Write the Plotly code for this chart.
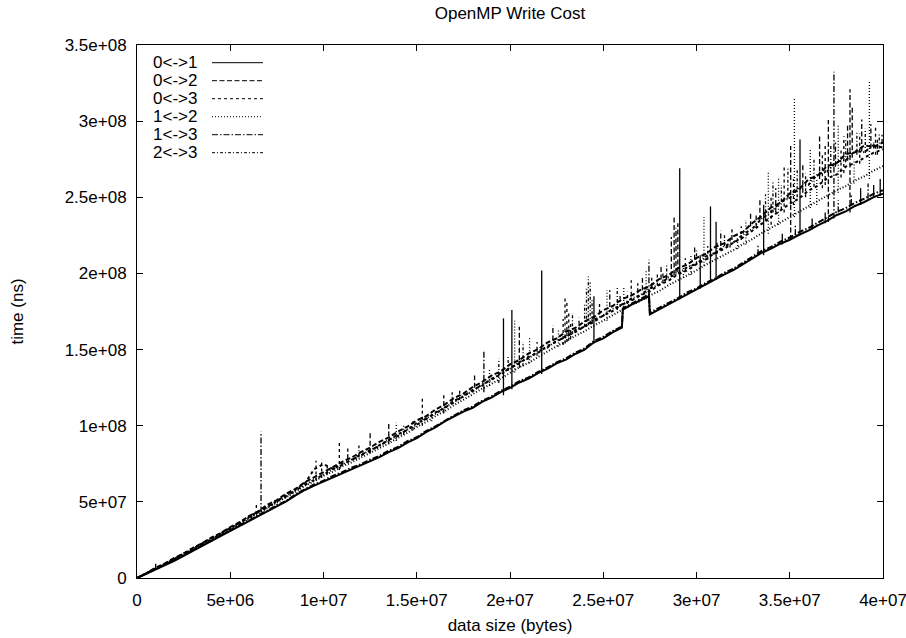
import plotly.graph_objects as go

# ---------------- data (sizes in 1e6 bytes, times in 1e6 ns) ----------------
series_keys = ["01", "02", "03", "12", "13", "23"]
series_names = ["0<->1", "0<->2", "0<->3", "1<->2", "1<->3", "2<->3"]

sizes_mb = [0, 0.5, 1, 1.5, 2, 2.5, 3, 3.5, 4, 4.5,
            5, 5.5, 6, 6.5, 7, 7.5, 8, 8.5, 9, 9.5,
            10, 10.5, 11, 11.5, 12, 12.5, 13, 13.5, 14, 14.5,
            15, 15.5, 16, 16.5, 17, 17.5, 18, 18.5, 19, 19.5,
            20, 20.5, 21, 21.5, 22, 22.5, 23, 23.5, 24, 24.5,
            25, 25.5, 26, 26.5, 27, 27.5, 28, 28.5, 29, 29.5,
            30, 30.5, 31, 31.5, 32, 32.5, 33, 33.5, 34, 34.5,
            35, 35.5, 36, 36.5, 37, 37.5, 38, 38.5, 39, 39.5,
            40]

sizes_lower_mb = [0, 0.5, 1, 1.5, 2, 2.5, 3, 3.5, 4, 4.5,
                  5, 5.5, 6, 6.5, 7, 7.5, 8, 8.5, 9, 9.5,
                  10, 10.5, 11, 11.5, 12, 12.5, 13, 13.5, 14, 14.5,
                  15, 15.5, 16, 16.5, 17, 17.5, 18, 18.5, 19, 19.5,
                  20, 20.5, 21, 21.5, 22, 22.5, 23, 23.5, 24, 24.5,
                  25, 25.5, 26, 26.05, 26.5, 27, 27.45, 27.5, 28, 28.5, 29, 29.5,
                  30, 30.5, 31, 31.5, 32, 32.5, 33, 33.5, 34, 34.5,
                  35, 35.5, 36, 36.5, 37, 37.5, 38, 38.5, 39, 39.5,
                  40]

time_01 = [0, 2.8, 5.4, 8.6, 11.2, 14.6, 17.7, 21.2, 24.3, 27.7,
           30.9, 34.3, 37.4, 40.8, 43.8, 47.2, 50.3, 54.2, 57.8, 60.7,
           63.3, 66.2, 68.8, 71.6, 73.9, 76.8, 79.4, 82.7, 85.3, 88.9,
           91.8, 95.8, 98.9, 102.8, 105.9, 109.3, 111.8, 115.6, 118.4, 122.1,
           124.8, 128.4, 130.9, 134.6, 137.3, 140.9, 143.4, 147.1, 149.9, 154.8,
           157.4, 161.3, 164.4, 176.2, 179.4, 182.3, 185.1, 173.1, 176.4, 179.8, 182.9, 186.4,
           189.3, 192.9, 195.8, 199.4, 202.3, 205.9, 209.8, 213.6, 216.3, 219.5,
           222.1, 225.4, 228.1, 231.6, 234.5, 238.2, 240.8, 244.3, 246.9, 250.1,
           252.4]

time_13 = [0, 3.2, 5.9, 9.1, 11.8, 15.2, 18.1, 21.6, 24.6, 28.3,
           31.2, 34.8, 37.6, 41.3, 44.2, 47.8, 50.6, 54.9, 58.3, 61.4,
           63.9, 67.1, 69.5, 72.4, 74.6, 77.7, 80.2, 83.6, 86.1, 89.8,
           92.4, 96.5, 99.6, 103.4, 106.7, 110.1, 112.6, 116.3, 119.2, 122.9,
           125.6, 129.2, 131.7, 135.3, 138.1, 141.6, 144.2, 147.9, 150.8, 155.6,
           158.3, 162.1, 165.2, 177.1, 180.2, 183.4, 186.2, 174.2, 177.3, 180.9, 183.8, 187.5,
           190.2, 193.8, 196.7, 200.5, 203.2, 207.1, 210.9, 214.8, 217.4, 220.9,
           223.6, 227.1, 229.8, 233.4, 236.6, 240.3, 242.9, 246.4, 249.1, 252.3,
           254.6]

time_02 = [0, 3.1, 6.8, 9.6, 13.2, 16.1, 19.8, 22.9, 26.6, 29.5,
           33.4, 36.6, 40.7, 43.8, 48.1, 51.2, 55.4, 58.5, 62.9, 66.1,
           69.7, 72.8, 76.3, 79.1, 82.6, 85.7, 89.4, 92.3, 96.2, 99.4,
           103.5, 106.2, 110.6, 113.9, 118.2, 121.1, 125.4, 128.6, 132.9, 135.7,
           140.3, 143.1, 147.5, 150.2, 154.6, 157.3, 161.7, 164.2, 168.5, 171.3,
           175.8, 178.6, 183.1, 185.4, 189.2, 191.6, 196.3, 198.8, 203.5, 205.7,
           210.2, 212.8, 217.4, 219.9, 224.5, 227.3, 233.1, 237.8, 243.4, 246.2,
           252.6, 255.1, 261.8, 264.3, 270.5, 272.2, 278.4, 279.6, 284.1, 283.2,
           286.0]

time_03 = [0, 3.4, 6.3, 9.2, 12.6, 15.6, 19.4, 22.3, 25.9, 29.1,
           33.0, 36.2, 40.1, 43.5, 47.2, 50.6, 54.3, 58.0, 62.2, 71.5,
           74.8, 71.6, 75.0, 77.4, 81.2, 83.4, 87.3, 90.6, 94.5, 97.2,
           101.8, 104.3, 108.7, 111.5, 116.4, 119.1, 123.6, 126.2, 130.8, 133.5,
           138.2, 141.0, 145.3, 147.8, 152.4, 155.2, 158.8, 161.4, 165.3, 168.1,
           172.4, 175.2, 179.6, 182.1, 185.6, 188.3, 192.5, 195.2, 199.4, 202.0,
           206.1, 209.2, 213.5, 216.3, 220.4, 223.6, 228.2, 232.5, 237.1, 241.3,
           245.8, 249.2, 254.3, 257.6, 262.4, 264.8, 270.1, 272.6, 276.2, 279.3,
           281.5]

time_12 = [0, 2.9, 5.6, 8.9, 11.6, 15.1, 18.2, 21.8, 24.7, 28.4,
           31.6, 35.5, 38.8, 42.3, 46.1, 49.3, 53.0, 56.5, 60.6, 63.5,
           67.1, 69.8, 73.2, 75.9, 79.1, 81.8, 85.3, 88.4, 92.2, 95.3,
           99.2, 102.4, 106.3, 109.6, 113.5, 117.2, 120.4, 124.3, 127.4, 131.2,
           134.5, 138.3, 141.4, 145.2, 148.6, 152.3, 155.4, 159.0, 162.0, 165.8,
           169.0, 172.7, 176.0, 179.3, 182.0, 185.5, 188.4, 192.3, 195.5, 199.0,
           202.0, 205.8, 209.0, 212.6, 215.5, 219.4, 222.6, 226.5, 229.8, 233.5,
           237.0, 240.5, 243.6, 247.5, 250.6, 254.5, 257.3, 261.0, 263.8, 267.6,
           270.5]

time_23 = [0, 2.8, 5.9, 9.4, 12.1, 15.8, 18.7, 22.6, 25.3, 29.4,
           32.2, 36.4, 39.3, 43.2, 46.4, 50.3, 53.6, 57.6, 61.1, 64.8,
           68.2, 71.4, 74.1, 77.7, 80.3, 84.2, 86.6, 90.8, 93.4, 97.6,
           100.5, 104.9, 107.8, 112.1, 115.2, 119.8, 122.6, 127.1, 129.9, 134.6,
           137.3, 141.8, 144.2, 148.9, 151.3, 155.9, 158.1, 162.7, 165.0, 169.6,
           172.3, 176.8, 179.1, 183.4, 185.9, 190.2, 192.6, 197.4, 199.8, 204.1,
           206.3, 211.2, 213.4, 218.1, 220.5, 225.6, 229.4, 236.1, 240.2, 246.8,
           249.5, 256.4, 258.1, 265.2, 266.8, 273.5, 274.2, 280.4, 279.6, 284.3,
           282.6]

# single-sample outliers: series, size, band value, outlier value
spike_series = ["02", "03", "13", "03", "03", "03", "03", "02", "23", "02",
                "02", "12", "23", "03", "03", "02", "12", "23", "03", "02",
                "12", "13", "23", "23", "01", "01", "12", "02", "23", "12",
                "03", "01", "02", "12", "03", "03", "03", "03", "03", "23",
                "03", "23", "23", "23", "23", "23", "01", "02", "12", "02",
                "23", "12", "03", "02", "12", "13", "23", "03", "23", "02",
                "02", "02", "02", "01", "12", "03", "01", "12", "01", "01",
                "02", "23", "03", "23", "12", "02", "02", "01", "12", "23",
                "12", "03", "23", "02", "12", "01", "12", "02", "03", "02",
                "13", "12", "03", "02", "02", "02", "23", "02", "12", "23",
                "03", "01", "01", "13", "01", "13",
                "02", "23", "03", "02", "23", "03", "23", "02", "03", "23",
                "12", "03", "23", "02", "03", "23", "12", "03", "23", "02",
                "03", "23", "02",
                "13", "01", "13", "01", "13", "01",
                "23", "03", "02", "23", "02", "12", "02", "03", "23", "02",
                "03", "12"]
spike_x = [1.0, 6.4, 6.65, 9.6, 9.9, 10.2, 10.85, 11.3, 11.9, 12.5,
           13.5, 13.9, 14.3, 14.8, 15.3, 16.45, 15.8, 16.9, 17.3, 18.1,
           18.9, 18.6, 19.4, 19.9, 19.65, 20.1, 20.25, 20.5, 20.7, 21.05,
           21.45, 21.7, 22.3, 22.6, 22.85, 22.95, 23.05, 23.15, 23.25, 23.35,
           23.7, 24.0, 24.1, 24.2, 24.3, 24.4, 24.5, 24.8, 25.2, 25.35,
           25.75, 26.1, 26.5, 26.85, 27.3, 27.45, 27.9, 28.2, 28.4, 28.65,
           28.8, 28.9, 29.0, 29.1, 29.7, 29.4, 30.2, 30.4, 30.75, 31.05,
           31.3, 30.0, 31.8, 31.5, 32.65, 32.9, 33.2, 33.6, 33.85, 34.1,
           34.4, 34.7, 34.9, 35.05, 35.25, 35.55, 36.1, 36.6, 36.9, 37.07,
           37.37, 37.6, 37.9, 38.1, 38.23, 38.35, 38.6, 38.86, 39.27, 39.5,
           39.7, 39.85, 36.9, 37.6, 38.8, 39.2,
           33.4, 33.7, 34.0, 34.25, 34.55, 35.2, 35.4, 35.7, 35.85, 36.3,
           36.45, 36.75, 37.2, 37.45, 37.75, 38.0, 38.45, 38.75, 39.05, 39.35,
           39.6, 39.8, 39.95,
           33.3, 34.6, 35.3, 36.2, 38.3, 39.5,
           25.9, 26.3, 27.1, 27.6, 28.1, 29.3, 29.9, 30.6, 31.1, 31.9,
           32.4, 32.2]
spike_lo = [6, 42, 43, 64, 66, 68, 71, 78, 80, 82,
            88, 90, 94, 97, 100, 108, 103, 115, 117, 125,
            126, 122, 128, 136, 120, 124, 135, 138, 139, 141,
            146, 134, 156, 152, 153, 154, 155, 156, 157, 160,
            163, 165, 165, 166, 167, 168, 154, 173, 169, 178,
            176, 176, 182, 187, 183, 186, 192, 194, 196, 198,
            199, 200, 201, 183, 199, 201, 190, 205, 194, 196,
            218, 206, 217, 218, 219, 231, 230, 212, 226, 240,
            232, 240, 249, 222, 237, 225, 243, 262, 258, 234,
            236, 253, 266, 274, 240, 276, 278, 280, 262, 282,
            278, 251, 233, 240, 245, 249,
            235, 235, 232, 240, 242, 245, 250, 253, 250, 257,
            245, 256, 266, 270, 263, 273, 259, 272, 279, 282,
            278, 282, 285,
            212, 219, 225, 229, 245, 250,
            178, 180, 189, 190, 196, 197, 209, 209, 213, 222,
            222, 216]
spike_hi = [10, 49, 96, 77, 78, 75, 90, 85, 87, 96,
            102.5, 102, 100, 104, 119, 120, 110, 122, 125, 133,
            137, 149, 144, 146, 170.5, 176, 169, 165, 155, 158,
            155, 202, 166, 163, 170, 184, 181, 174, 168, 174,
            171, 180, 190, 198, 194, 183, 185, 180, 189, 189,
            191, 191, 195.5, 193.5, 202, 209, 200, 201, 206, 224,
            237, 230, 233, 269, 212, 210, 212, 237, 244, 234,
            228, 215, 224, 225, 235, 240, 238, 245, 267, 261,
            263.5, 271, 270, 283.6, 315, 288, 282, 291.5, 285, 300.7,
            332.5, 297, 290, 298, 321, 309, 293, 301, 326.5, 287,
            289, 262, 240, 248, 256, 259,
            248, 252, 250, 256, 258, 262, 268, 272, 266, 276,
            262, 279, 284, 286, 281, 288, 275, 292, 295, 298,
            296, 292, 291,
            219, 226, 232, 236, 252, 258,
            186, 188, 197, 198, 205, 205, 217, 218, 221, 229,
            231, 224]

x_tick_vals = [0, 5, 10, 15, 20, 25, 30, 35, 40]
x_tick_text = ["0", "5e+06", "1e+07", "1.5e+07", "2e+07", "2.5e+07", "3e+07", "3.5e+07", "4e+07"]
y_tick_vals = [0, 50, 100, 150, 200, 250, 300, 350]
y_tick_text = ["0", "5e+07", "1e+08", "1.5e+08", "2e+08", "2.5e+08", "3e+08", "3.5e+08"]

# ---------------- styling ----------------
MB = 1e6
dash_styles = {"01": "solid", "02": "5px,2.5px", "03": "3px,3px",
               "12": "1px,2px", "13": "6px,2px,1.5px,2px", "23": "3px,2px,1px,2px"}
series_sizes = {"01": sizes_lower_mb, "02": sizes_mb, "03": sizes_mb,
                "12": sizes_mb, "13": sizes_lower_mb, "23": sizes_mb}
series_times = {"01": time_01, "02": time_02, "03": time_03,
                "12": time_12, "13": time_13, "23": time_23}

FONT = "Liberation Sans, Arial, Helvetica, sans-serif"
FS = 17
W, H = 906, 638
ML, MR, MT, MB_ = 137, 23, 45, 60
PW, PH = W - ML - MR, H - MT - MB_

fig = go.Figure()
for key, name in zip(series_keys, series_names):
    fig.add_trace(go.Scatter(
        x=[v * MB for v in series_sizes[key]],
        y=[v * MB for v in series_times[key]],
        mode="lines", name=name, showlegend=False,
        line=dict(color="black", width=2, dash=dash_styles[key]),
        hoverinfo="skip"))
    sx, sy = [], []
    for s, xv, lo, hi in zip(spike_series, spike_x, spike_lo, spike_hi):
        if s == key:
            sx += [xv * MB, xv * MB, None]
            sy += [lo * MB, hi * MB, None]
    fig.add_trace(go.Scatter(
        x=sx, y=sy, mode="lines", name=name, showlegend=False,
        connectgaps=False,
        line=dict(color="black", width=1.3, dash=dash_styles[key]),
        hoverinfo="skip"))

# gnuplot-style key (label left, sample right), top-left inside the plot
shapes, annotations = [], []
for i, (key, name) in enumerate(zip(series_keys, series_names)):
    py = 62.7 + 18 * i
    yp = (H - MB_ - py) / PH
    annotations.append(dict(
        x=(199 - ML) / PW, y=yp, xref="paper", yref="paper",
        text=name, showarrow=False, xanchor="right", yanchor="middle",
        font=dict(family=FONT, size=FS, color="black")))
    shapes.append(dict(
        type="line", xref="paper", yref="paper",
        x0=(212 - ML) / PW, x1=(263 - ML) / PW, y0=yp, y1=yp,
        line=dict(color="black", width=1, dash=dash_styles[key])))

axis_common = dict(
    showline=True, linecolor="black", linewidth=1, mirror="ticks",
    ticks="inside", ticklen=6, tickwidth=1, tickcolor="black",
    showgrid=False, zeroline=False, automargin=False,
    ticklabeloverflow="allow",
    tickfont=dict(family=FONT, size=FS, color="black"))

fig.update_layout(
    width=W, height=H,
    margin=dict(l=ML, r=MR, t=MT, b=MB_, pad=0),
    paper_bgcolor="white", plot_bgcolor="white",
    title=dict(text="OpenMP Write Cost", x=0.5, xref="paper",
               y=1 - 13 / H, yref="container", yanchor="middle",
               font=dict(family=FONT, size=FS, color="black")),
    xaxis=dict(range=[0, 40 * MB], tickvals=[v * MB for v in x_tick_vals],
               ticktext=x_tick_text, ticklabelstandoff=7,
               title=dict(text="data size (bytes)", standoff=9,
                          font=dict(family=FONT, size=FS, color="black")),
               **axis_common),
    yaxis=dict(range=[0, 350 * MB], tickvals=[v * MB for v in y_tick_vals],
               ticktext=y_tick_text, ticklabelstandoff=6,
               title=dict(text="time (ns)", standoff=36,
                          font=dict(family=FONT, size=FS, color="black")),
               **axis_common),
    shapes=shapes, annotations=annotations,
    showlegend=False,
)

fig.write_html("out.html", config={"displayModeBar": False},
               post_script="document.body.style.margin='0px';")
